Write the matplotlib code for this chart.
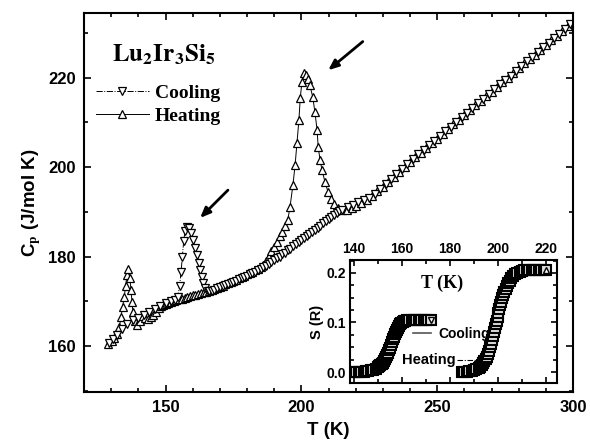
import numpy as np
import matplotlib.pyplot as plt
from matplotlib.ticker import MultipleLocator, FormatStrFormatter

plt.rcParams['font.family'] = ['Liberation Sans', 'DejaVu Sans']
plt.rcParams['font.weight'] = 'bold'
plt.rcParams['mathtext.fontset'] = 'stix'

# main panel: Cp vs T
cool_T = [129.2, 130.5, 132, 134, 136, 138, 140, 142, 144, 146, 148, 150, 152, 153.5, 154.5,
          155.2, 155.7, 156.2, 156.7, 157.2, 157.9, 158.6, 159.4, 160.1, 160.9, 161.6, 162.2,
          162.7, 163.3, 163.8, 164.5, 165.5, 166, 167, 168, 169, 170, 171, 172, 173, 174, 175,
          176, 177, 178, 179, 180, 181, 182, 183, 184, 185, 186, 187, 188, 189, 190, 191, 192,
          193, 194, 195, 196, 197, 198, 199, 200, 201, 202, 203, 204, 205, 206, 207, 208, 209,
          210, 211, 212, 213, 214, 215, 217, 219,
          221, 223, 225, 227, 229, 231, 233, 235, 237, 239, 241, 243, 245, 247, 249, 251, 253,
          255, 257, 259, 261, 263, 265, 267, 269, 271, 273, 275, 277, 279, 281, 283, 285, 287,
          289, 291, 293, 295, 297, 299]
cool_Cp = [160.6, 161.5, 162.5, 163.8, 165.0, 165.8, 166.3, 167.0, 167.6, 168.3, 169.0, 169.6,
           170.0, 170.3, 171.0, 173.5, 176.5, 180.0, 183.5, 185.8, 186.6, 186.3, 185.2, 183.7,
           182.0, 180.4, 178.6, 177.0, 175.5, 174.0, 173.0, 172.3, 172.3, 172.4, 172.6, 172.9,
           173.1, 173.4, 173.6, 173.9, 174.1, 174.4, 174.6, 174.9, 175.1, 175.4, 175.7, 176.0,
           176.3, 176.6, 177.0, 177.3, 177.6, 178.0, 178.4, 178.8, 179.2, 179.6, 180.0, 180.5,
           180.9, 181.4, 181.8, 182.3, 182.7, 183.2, 183.6, 184.1, 184.5, 185.0, 185.4, 185.9,
           186.4, 186.9, 187.4, 187.9, 188.3, 188.8, 189.3, 189.7, 190.1, 190.5, 191.1, 191.6,
           192.1, 192.6, 193.2, 194.1, 195.1, 196.2, 197.3, 198.4, 199.6, 200.7, 201.8, 202.9,
           203.9, 204.9, 205.9, 207.0, 208.0, 209.1, 210.1, 211.2, 212.2, 213.3, 214.3, 215.3,
           216.4, 217.4, 218.5, 219.5, 220.5, 221.6, 222.6, 223.7, 224.7, 225.7, 226.8, 227.8,
           228.9, 229.9, 231.0, 232.0]

heat_T = [129.0, 130.2, 131.2, 132.2, 133.0, 133.6, 134.2, 134.8, 135.3, 135.8, 136.3, 136.9,
          137.3, 137.7, 138.0, 138.6, 139.5, 140.5, 141.5, 142.5, 143.5, 144.5, 145.5, 146.5,
          147.5, 148.5, 149, 150, 151, 152, 153, 154, 155, 156, 157, 158, 159, 160, 161, 162,
          163, 164, 165, 166, 167, 168, 169, 170, 171, 172, 173, 174, 175, 176, 177, 178, 179,
          180, 181, 182, 183, 184, 185, 186, 187, 188, 189, 190, 191, 192, 193, 194, 195.0,
          195.8, 196.9, 197.7, 198.4, 199.1,
          199.6, 200.2, 201.0, 201.6, 202.3, 203.1, 204.2, 205.0, 205.8, 206.2, 206.9, 207.6,
          208.7, 209.8, 211.0, 212.0, 213.5, 215.0, 216.8, 218.5, 220, 222, 224, 226, 228, 230,
          232, 234, 236, 238, 240, 242, 244, 246, 248, 250, 252, 254, 256, 258, 260, 262, 264,
          266, 268, 270, 272, 274, 276, 278, 280, 282, 284, 286, 288, 290, 292, 294, 296, 298, 300]
heat_Cp = [160.4, 161.0, 161.8, 162.6, 164.2, 166.5, 168.8, 171.0, 173.5, 175.8, 177.2, 175.2,
           172.5, 169.8, 167.5, 165.5, 164.8, 165.6, 166.8, 166.2, 166.0, 166.5, 167.0, 167.6,
           168.4, 169.0, 169.1, 169.4, 169.6, 169.8, 170.0, 170.2, 170.4, 170.6, 170.8, 171.0,
           171.2, 171.4, 171.5, 171.6, 171.8, 172.0, 172.1, 172.3, 172.5, 172.8, 173.0, 173.3,
           173.5, 173.8, 174.0, 174.3, 174.5, 174.8, 175.1, 175.4, 175.7, 176.0, 176.3, 176.6,
           176.9, 177.2, 177.6, 178.2, 179.1, 180.2, 181.2, 182.2, 183.3, 184.5, 185.6, 186.8,
           188.2, 191.0, 196.0, 200.5, 205.4, 210.5,
           215.5, 219.0, 221.0, 220.6, 219.8, 218.4, 215.7, 212.3, 208.3, 204.5, 201.6, 199.4,
           196.7, 194.5, 192.8, 191.8, 190.9, 190.5, 190.4, 190.8, 191.3, 192.0, 192.7, 193.6,
           194.6, 195.6, 196.7, 197.8, 198.9, 200.0, 201.1, 202.2, 203.2, 204.2, 205.3, 206.4,
           207.5, 208.5, 209.6, 210.6, 211.7, 212.7, 213.8, 214.8, 215.9, 216.9, 218.0, 219.0,
           220.0, 221.1, 222.1, 223.2, 224.2, 225.2, 226.3, 227.3, 228.4, 229.4, 230.4, 231.5,
           232.5]

# inset: entropy S(R) vs T
s_cool_T = [139, 140, 141, 142, 143, 144, 145, 146, 147, 148, 149, 150, 150.5, 151, 151.5,
            152, 152.5, 153, 153.4, 153.8, 154.2, 154.6, 155, 155.4, 155.8, 156.2, 156.6, 157,
            157.4, 157.8, 158.2, 158.7, 159.2, 159.7, 160.2, 160.8, 161.4, 162, 163, 164, 165,
            166, 167, 168, 169, 170, 171, 172]
s_cool_S = [0.0, 0.0, 0.0, 0.0, 0.001, 0.001, 0.002, 0.003, 0.004, 0.005, 0.007, 0.010, 0.012,
            0.014, 0.016, 0.019, 0.022, 0.026, 0.030, 0.034, 0.039, 0.044, 0.049, 0.055, 0.060,
            0.066, 0.071, 0.076, 0.081, 0.085, 0.089, 0.093, 0.096, 0.099, 0.101, 0.103, 0.104,
            0.105, 0.105, 0.106, 0.106, 0.106, 0.106, 0.106, 0.106, 0.106, 0.106, 0.106]
s_heat_T = [185.0, 186.0, 187.0, 188.0, 189.0, 190.0, 191.0, 192.0, 192.6, 193.2, 193.8, 194.3,
            194.8, 195.3, 195.8, 196.2, 196.6, 197.0, 197.4, 197.8, 198.2, 198.6, 199.0, 199.4,
            199.8, 200.2, 200.6, 201.0, 201.4, 201.8, 202.2, 202.7, 203.2, 203.7, 204.3, 204.9,
            205.6, 206.3, 207.1, 208.0, 209.0, 210.0, 211.0, 212.0, 213.0, 214.0, 215.0, 216.0,
            217.0, 218.0, 219.0, 220.0]
s_heat_S = [0.0, 0.0, 0.001, 0.002, 0.003, 0.004, 0.006, 0.009, 0.011, 0.014, 0.018, 0.022,
            0.026, 0.031, 0.037, 0.043, 0.050, 0.057, 0.064, 0.072, 0.080, 0.088, 0.096, 0.104,
            0.112, 0.120, 0.128, 0.135, 0.142, 0.149, 0.155, 0.161, 0.167, 0.173, 0.179, 0.184,
            0.189, 0.193, 0.197, 0.200, 0.202, 0.204, 0.205, 0.206, 0.206, 0.206, 0.206, 0.206,
            0.206, 0.206, 0.206, 0.206]

fig = plt.figure(figsize=(5.9, 4.46), dpi=100)
ax = fig.add_axes([0.1424, 0.1211, 0.8288, 0.8498])

mk = dict(markersize=6, markerfacecolor='white', markeredgecolor='black',
          markeredgewidth=0.9, color='black', linewidth=0.7)
ax.plot(heat_T, heat_Cp, '-', marker='^', label='Heating', **mk)
ax.plot(cool_T, cool_Cp, '-.', marker='v', label='Cooling', **mk)

ax.set_xlim(120, 300)
ax.set_ylim(149.7, 234.5)
ax.xaxis.set_major_locator(MultipleLocator(50))
ax.xaxis.set_minor_locator(MultipleLocator(10))
ax.yaxis.set_major_locator(MultipleLocator(20))
ax.yaxis.set_minor_locator(MultipleLocator(10))
ax.tick_params(which='both', direction='in', top=True, right=True, width=1.2)
ax.tick_params(which='major', length=5, labelsize=12, pad=6)
ax.tick_params(which='minor', length=3)
for sp in ax.spines.values():
    sp.set_linewidth(1.5)
ax.set_xlabel('T (K)', fontsize=13.5, fontweight='bold', labelpad=5)
ax.set_ylabel(r'C$_\mathsf{p}$ (J/mol K)', fontsize=13.5, fontweight='bold', labelpad=4)

h, l = ax.get_legend_handles_labels()
ax.legend(h[::-1], l[::-1], loc='center left', bbox_to_anchor=(0.025, 0.758), frameon=False,
          prop={'family': 'Liberation Serif', 'weight': 'bold', 'size': 14},
          handlelength=2.7, handletextpad=0.3, labelspacing=0.3, borderpad=0, borderaxespad=0)

ax.text(0.057, 0.871, r'$\mathbf{Lu_2Ir_3Si_5}$', transform=ax.transAxes,
        fontsize=18, va='baseline', ha='left')

arrow = dict(arrowstyle='-|>,head_length=0.6,head_width=0.25', color='black', lw=2)
ax.annotate('', xy=(209.1, 221.3), xytext=(223.4, 228.5), arrowprops=arrow)
ax.annotate('', xy=(162.0, 188.2), xytext=(173.7, 195.3), arrowprops=arrow)

# inset
axi = fig.add_axes([0.5932, 0.1413, 0.3509, 0.2757])
smk = dict(marker='s', markersize=6.5, markerfacecolor='#dddddd', markeredgecolor='black',
           markeredgewidth=1.5, linestyle='none')
axi.plot(s_cool_T, s_cool_S, **smk)
axi.plot(s_heat_T, s_heat_S, **smk)
axi.plot(s_cool_T[-1:], s_cool_S[-1:], marker='v', markersize=5, markerfacecolor='white',
         markeredgecolor='black', linestyle='none')
axi.plot(s_heat_T[-1:], s_heat_S[-1:], marker='^', markersize=5, markerfacecolor='white',
         markeredgecolor='black', linestyle='none')
axi.set_xlim(138.3, 224.6)
axi.set_ylim(-0.022, 0.226)
axi.xaxis.tick_top()
axi.xaxis.set_major_locator(MultipleLocator(20))
axi.xaxis.set_minor_locator(MultipleLocator(10))
axi.yaxis.set_major_locator(MultipleLocator(0.1))
axi.yaxis.set_minor_locator(MultipleLocator(0.025))
axi.yaxis.set_major_formatter(FormatStrFormatter('%.1f'))
axi.tick_params(which='both', direction='in', top=True, bottom=True, left=True, right=True,
                width=1.2, labelsize=10)
axi.tick_params(which='major', length=4, pad=3)
axi.tick_params(which='minor', length=3)
for sp in axi.spines.values():
    sp.set_linewidth(1.5)
axi.set_ylabel('S (R)', fontsize=10.5, fontweight='bold', labelpad=2)
axi.text(0.445, 0.81, 'T (K)', transform=axi.transAxes, fontsize=13, fontweight='bold',
         family='Liberation Serif', ha='center', va='center')
axi.text(0.425, 0.40, 'Cooling', transform=axi.transAxes, fontsize=10, fontweight='bold',
         ha='left', va='center')
axi.plot([0.305, 0.39], [0.41, 0.41], transform=axi.transAxes, color='#555555', lw=1.2)
axi.text(0.25, 0.185, 'Heating', transform=axi.transAxes, fontsize=10.5, fontweight='bold',
         ha='left', va='center')
axi.plot([0.515, 0.62], [0.19, 0.19], transform=axi.transAxes, color='black', lw=0.8,
         linestyle=(0, (5, 1.5, 1, 1.5)))

fig.savefig('out.png', dpi=100)
